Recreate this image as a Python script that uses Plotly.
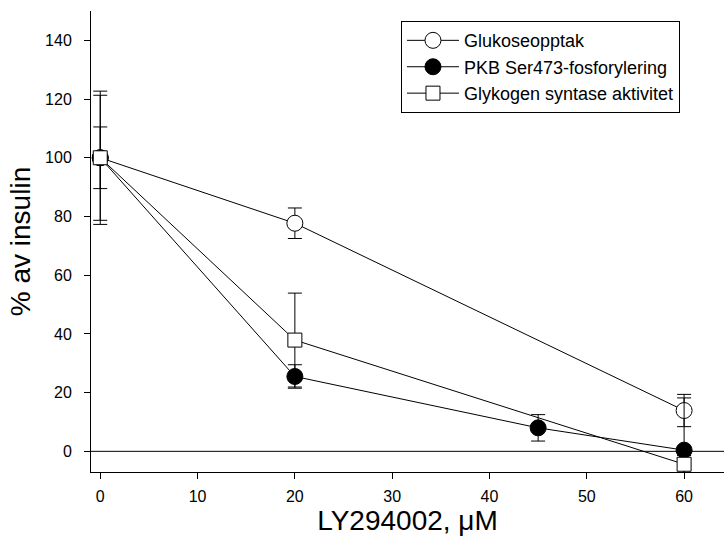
import plotly.graph_objects as go

# Data
x_gluk = [0, 20, 60]
y_gluk = [100, 77.7, 13.9]
e_gluk = [10.5, 5.2, 5.5]

x_pkb = [0, 20, 45, 60]
y_pkb = [100, 25.5, 8.0, 0.4]
e_pkb = [22.7, 4.0, 4.5, 17.8]

x_gs = [0, 20, 60]
y_gs = [100, 37.9, -4.4]
e_gs = [21.3, 16.0, 3.0]

names = ["Glukoseopptak", "PKB Ser473-fosforylering", "Glykogen syntase aktivitet"]
x_ticks = [0, 10, 20, 30, 40, 50, 60]
y_ticks = [0, 20, 40, 60, 80, 100, 120, 140]

FONT = "Liberation Sans, Arial, sans-serif"

def err(arr):
    return dict(type="data", array=arr, visible=True, color="black", thickness=1, width=7)

fig = go.Figure()
fig.add_trace(go.Scatter(
    x=x_gluk, y=y_gluk, name=names[0], mode="lines+markers", legendgroup="a",
    line=dict(color="black", width=1),
    marker=dict(symbol="circle", size=16, color="white", line=dict(color="black", width=1)),
    error_y=err(e_gluk)))
fig.add_trace(go.Scatter(
    x=x_pkb, y=y_pkb, name=names[1], mode="lines+markers", legendgroup="b",
    line=dict(color="black", width=1),
    marker=dict(symbol="circle", size=16, color="black", line=dict(color="black", width=1)),
    error_y=err(e_pkb)))
fig.add_trace(go.Scatter(
    x=x_gs, y=y_gs, name=names[2], mode="lines+markers", legendgroup="c",
    line=dict(color="black", width=1),
    marker=dict(symbol="square", size=14, color="white", line=dict(color="black", width=1)),
    error_y=err(e_gs)))

fig.add_shape(type="line", xref="paper", yref="y", x0=0, x1=1, y0=0, y1=0,
              line=dict(color="black", width=1), layer="below")

fig.update_layout(
    width=724, height=545,
    margin=dict(l=91, r=0, t=11, b=73),
    paper_bgcolor="white", plot_bgcolor="white",
    font=dict(family=FONT, color="black", size=16),
    showlegend=True,
    legend=dict(x=0.4897, y=0.978, xanchor="left", yanchor="top",
                bordercolor="black", borderwidth=1, bgcolor="white",
                font=dict(size=18), traceorder="grouped", tracegroupgap=0,
                itemwidth=52),
    xaxis=dict(range=[-0.95, 64.1], tickvals=x_ticks, ticks="outside", ticklen=6,
               tickcolor="black", showline=True, linecolor="black", linewidth=1,
               showgrid=False, zeroline=False, tickfont=dict(size=16),
               ticklabelstandoff=4,
               title=dict(text="LY294002, μM", font=dict(size=28), standoff=4)),
    yaxis=dict(range=[-7.04, 150], tickvals=y_ticks, ticks="outside", ticklen=6,
               tickcolor="black", showline=True, linecolor="black", linewidth=1,
               showgrid=False, zeroline=False, tickfont=dict(size=16),
               ticklabelstandoff=9,
               title=dict(text="% av insulin", font=dict(size=28), standoff=6)),
)

fig.write_html("out.html")
